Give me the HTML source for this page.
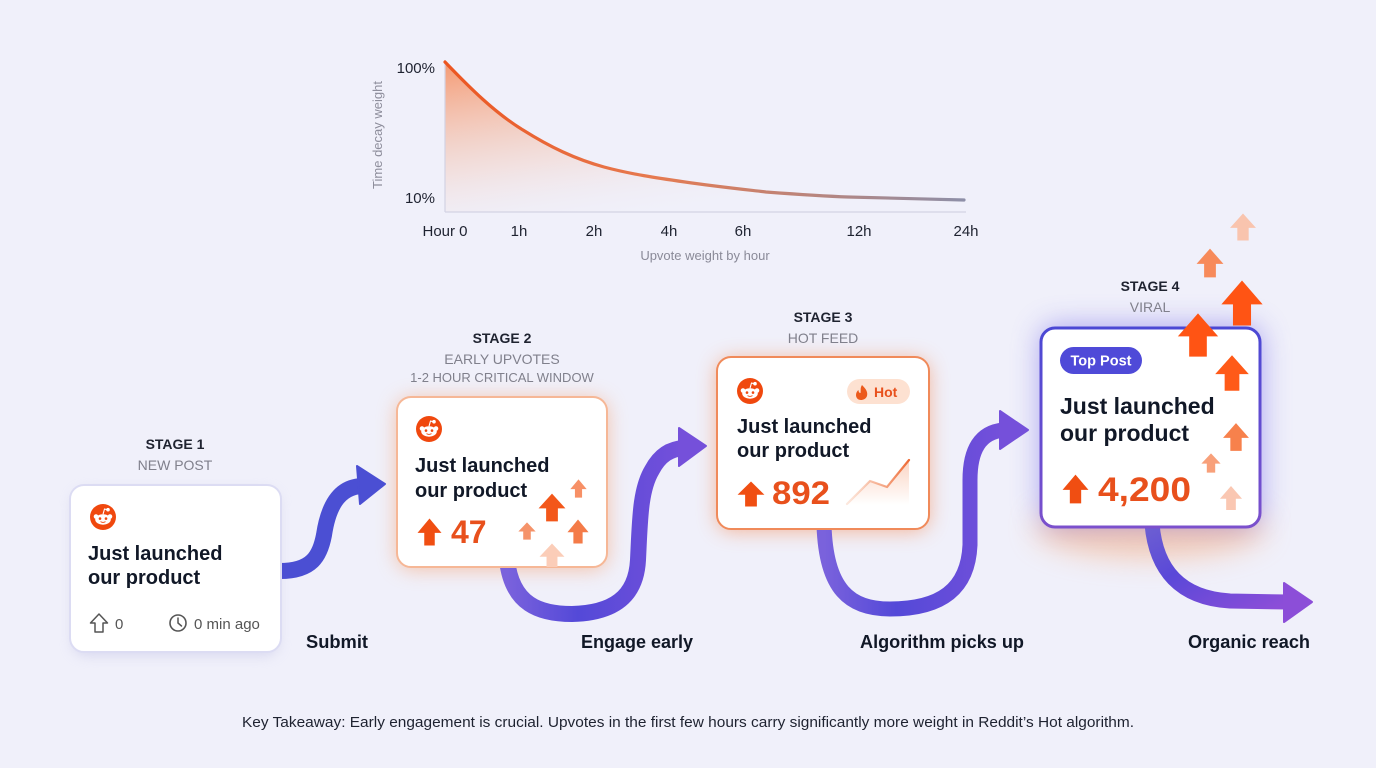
<!DOCTYPE html>
<html><head><meta charset="utf-8"><style>
html,body{margin:0;padding:0;background:#f0f0fa;}
svg{display:block;font-family:"Liberation Sans",sans-serif;}
</style></head><body>
<svg width="1376" height="768" viewBox="0 0 1376 768" xmlns="http://www.w3.org/2000/svg">
<defs>
  <filter id="b6" x="-50%" y="-50%" width="200%" height="200%"><feGaussianBlur stdDeviation="6"/></filter>
  <filter id="b10" x="-50%" y="-50%" width="200%" height="200%"><feGaussianBlur stdDeviation="10"/></filter>
  <filter id="b16" x="-60%" y="-60%" width="220%" height="220%"><feGaussianBlur stdDeviation="14"/></filter>
  <linearGradient id="fillG" x1="0" y1="0" x2="0.5" y2="1">
    <stop offset="0" stop-color="#f5834f" stop-opacity="0.8"/>
    <stop offset="0.6" stop-color="#f6b79a" stop-opacity="0.28"/>
    <stop offset="1" stop-color="#f0f0fa" stop-opacity="0"/>
  </linearGradient>
  <linearGradient id="curveG" x1="445" y1="0" x2="965" y2="0" gradientUnits="userSpaceOnUse">
    <stop offset="0" stop-color="#ec5520"/>
    <stop offset="0.4" stop-color="#e67a50"/>
    <stop offset="1" stop-color="#8d8fa8"/>
  </linearGradient>
  <linearGradient id="a2G" x1="0" y1="0" x2="1" y2="0">
    <stop offset="0" stop-color="#7a62dc"/>
    <stop offset="0.4" stop-color="#5449d8"/>
    <stop offset="1" stop-color="#7550da"/>
  </linearGradient>
  <linearGradient id="a4G" x1="0" y1="0" x2="1" y2="1">
    <stop offset="0" stop-color="#6d5fd2"/>
    <stop offset="0.4" stop-color="#5a48d8"/>
    <stop offset="1" stop-color="#8c4ed8"/>
  </linearGradient>
  <linearGradient id="c4B" x1="0" y1="0" x2="0" y2="1">
    <stop offset="0" stop-color="#4b48d4"/>
    <stop offset="1" stop-color="#7b50cc"/>
  </linearGradient>
  <linearGradient id="sparkF" x1="0" y1="0" x2="0" y2="1">
    <stop offset="0" stop-color="#f6a07a" stop-opacity="0.45"/>
    <stop offset="1" stop-color="#f6a07a" stop-opacity="0"/>
  </linearGradient>
  <linearGradient id="sparkS" x1="0" y1="0" x2="1" y2="0">
    <stop offset="0" stop-color="#f5b08e" stop-opacity="0.3"/>
    <stop offset="1" stop-color="#ee6a35"/>
  </linearGradient>
  <clipPath id="c2clip"><rect x="397" y="397" width="210" height="170" rx="14"/></clipPath>
  <symbol id="up" viewBox="0 0 100 100" preserveAspectRatio="none">
    <path d="M50 2 L98 53 L71 53 L71 98 L29 98 L29 53 L2 53 Z" stroke-linejoin="round"/>
  </symbol>
  <symbol id="snoo" viewBox="-13 -13 26 26">
    <circle r="13" fill="#f0480e"/>
    <circle cx="-7" cy="-0.5" r="2.3" fill="#fff"/>
    <circle cx="7" cy="-0.5" r="2.3" fill="#fff"/>
    <ellipse cx="0" cy="2.5" rx="7.8" ry="5.2" fill="#fff"/>
    <circle cx="-3" cy="1.6" r="1.3" fill="#f0480e"/>
    <circle cx="3" cy="1.6" r="1.3" fill="#f0480e"/>
    <path d="M-2.5 4.6 Q0 6.2 2.5 4.6" stroke="#f0480e" stroke-width="0.9" fill="none"/>
    <path d="M0 -2.7 L1.5 -8 L4.5 -7.2" stroke="#fff" stroke-width="1.1" fill="none"/>
    <circle cx="5" cy="-7.3" r="1.8" fill="#fff"/>
  </symbol>
</defs>

<rect width="1376" height="768" fill="#f0f0fa"/>

<!-- ============ CHART ============ -->
<path d="M445,62 C470,88 495,113 523,130 C550,147 575,159 604,167 C630,174 657,178 685,182 C712,186 740,189 766,192 C793,194 820,196 848,197 C888,198 925,199 964,200 L964,212 L445,212 Z" fill="url(#fillG)"/>
<line x1="445" y1="60" x2="445" y2="212" stroke="#d3d3e3" stroke-width="1.2"/>
<line x1="445" y1="212" x2="966" y2="212" stroke="#d3d3e3" stroke-width="1.2"/>
<path d="M445,62 C470,88 495,113 523,130 C550,147 575,159 604,167 C630,174 657,178 685,182 C712,186 740,189 766,192 C793,194 820,196 848,197 C888,198 925,199 964,200" fill="none" stroke="url(#curveG)" stroke-width="3.2" stroke-linecap="round"/>
<g font-size="15" fill="#1e2230">
  <text x="435" y="73" text-anchor="end">100%</text>
  <text x="435" y="203" text-anchor="end">10%</text>
  <text x="445" y="236" text-anchor="middle">Hour 0</text>
  <text x="519" y="236" text-anchor="middle">1h</text>
  <text x="594" y="236" text-anchor="middle">2h</text>
  <text x="669" y="236" text-anchor="middle">4h</text>
  <text x="743" y="236" text-anchor="middle">6h</text>
  <text x="859" y="236" text-anchor="middle">12h</text>
  <text x="966" y="236" text-anchor="middle">24h</text>
</g>
<text x="705" y="260" text-anchor="middle" font-size="13" fill="#8a8a98">Upvote weight by hour</text>
<text transform="translate(382,135) rotate(-90)" text-anchor="middle" font-size="13" fill="#8e8e9c">Time decay weight</text>

<!-- ============ GLOWS ============ -->
<rect x="72" y="490" width="207" height="166" rx="14" fill="#c9c9e8" opacity="0.6" filter="url(#b6)"/>
<rect x="397" y="399" width="210" height="170" rx="14" fill="#f7985f" opacity="0.55" filter="url(#b10)"/>
<rect x="717" y="359" width="212" height="172" rx="14" fill="#f58a52" opacity="0.6" filter="url(#b10)"/>
<ellipse cx="1150" cy="528" rx="115" ry="30" fill="#f6a572" opacity="0.5" filter="url(#b16)"/>
<rect x="1040" y="325" width="222" height="200" rx="16" fill="#6a5ee6" opacity="0.5" filter="url(#b16)"/>

<!-- ============ CONNECTORS ============ -->
<path d="M280,571 C312,571 320,556 324,535 C328,508 338,487 362,486" fill="none" stroke="#4b4fd3" stroke-width="16"/>
<path d="M357,466 L385,484 L360,504 Z" fill="#4b4fd3" stroke="#4b4fd3" stroke-width="2" stroke-linejoin="round"/>
<path d="M507,560 C512,605 540,614 572,614 C612,613 636,598 638,560 C640,520 640,490 652,470 C660,455 670,449 684,448" fill="none" stroke="url(#a2G)" stroke-width="16"/>
<path d="M679,428 L706,446 L679,466 Z" fill="#7550da" stroke="#7550da" stroke-width="2" stroke-linejoin="round"/>
<path d="M824,525 C826,590 850,609 890,609 C940,609 968,590 970,545 L970,480 C970,450 980,432 1004,430" fill="none" stroke="url(#a2G)" stroke-width="15"/>
<path d="M1000,411 L1028,430 L1000,449 Z" fill="#7550da" stroke="#7550da" stroke-width="2" stroke-linejoin="round"/>
<path d="M1152,524 C1156,570 1180,598 1230,601 L1288,602" fill="none" stroke="url(#a4G)" stroke-width="15"/>
<path d="M1284,583 L1312,602 L1284,622 Z" fill="#8c4ed8" stroke="#8c4ed8" stroke-width="2" stroke-linejoin="round"/>

<!-- ============ STAGE 1 ============ -->
<text x="175" y="449" text-anchor="middle" font-size="14" font-weight="bold" fill="#1f2330">STAGE 1</text>
<text x="175" y="470" text-anchor="middle" font-size="14" fill="#80808c">NEW POST</text>
<rect x="70" y="485" width="211" height="167" rx="14" fill="#ffffff" stroke="#dcdcf3" stroke-width="2"/>
<use href="#snoo" x="90" y="504" width="26" height="26"/>
<text x="88" y="560" font-size="20" font-weight="bold" fill="#111827">Just launched</text>
<text x="88" y="584" font-size="20" font-weight="bold" fill="#111827">our product</text>
<path d="M99 614 L107.5 623 L103 623 L103 632 L95 632 L95 623 L90.5 623 Z" fill="none" stroke="#555" stroke-width="1.5" stroke-linejoin="round"/>
<text x="115" y="629" font-size="15" fill="#555">0</text>
<circle cx="178" cy="623" r="8" fill="none" stroke="#555" stroke-width="1.6"/>
<path d="M178 618 L178 623 L181.5 626" fill="none" stroke="#555" stroke-width="1.5" stroke-linecap="round"/>
<text x="194" y="629" font-size="15" fill="#555">0 min ago</text>

<!-- ============ STAGE 2 ============ -->
<text x="502" y="343" text-anchor="middle" font-size="14" font-weight="bold" fill="#1f2330">STAGE 2</text>
<text x="502" y="364" text-anchor="middle" font-size="14" fill="#80808c">EARLY UPVOTES</text>
<text x="502" y="382" text-anchor="middle" font-size="13" fill="#80808c">1-2 HOUR CRITICAL WINDOW</text>
<rect x="397" y="397" width="210" height="170" rx="14" fill="#ffffff" stroke="#f6b796" stroke-width="2"/>
<use href="#snoo" x="416" y="416" width="26" height="26"/>
<text x="415" y="472" font-size="20" font-weight="bold" fill="#111827">Just launched</text>
<text x="415" y="497" font-size="20" font-weight="bold" fill="#111827">our product</text>
<use href="#up" x="417" y="518" width="25" height="28" fill="#f04e12"/>
<text x="451" y="543" font-size="32" font-weight="bold" fill="#e8501c">47</text>
<g clip-path="url(#c2clip)">
  <use href="#up" x="539" y="543" width="26" height="26" fill="#fbcdb8"/>
</g>
<use href="#up" x="538" y="493" width="28" height="29" fill="#f3571a"/>
<use href="#up" x="570" y="479" width="17" height="19" fill="#f79066"/>
<use href="#up" x="518" y="522" width="18" height="18" fill="#f5936a"/>
<use href="#up" x="567" y="519" width="22" height="25" fill="#f47b48"/>

<!-- ============ STAGE 3 ============ -->
<text x="823" y="322" text-anchor="middle" font-size="14" font-weight="bold" fill="#1f2330">STAGE 3</text>
<text x="823" y="343" text-anchor="middle" font-size="14" fill="#80808c">HOT FEED</text>
<rect x="717" y="357" width="212" height="172" rx="14" fill="#ffffff" stroke="#f08a5a" stroke-width="2"/>
<use href="#snoo" x="737" y="378" width="26" height="26"/>
<rect x="847" y="379" width="63" height="25" rx="12.5" fill="#fde1d1"/>
<path d="M862 385 C866 389 868 392 867 396 C866 399 863 400 861 400 C858 400 856 398 856 395 C856 393 857 391 858.5 390 C858.5 392 859.5 393 860.5 393 C861 390 860 388 862 385 Z" fill="#ec5a1c"/>
<text x="874" y="397" font-size="14" font-weight="bold" fill="#e8501c">Hot</text>
<text x="737" y="433" font-size="20" font-weight="bold" fill="#111827">Just launched</text>
<text x="737" y="457" font-size="20" font-weight="bold" fill="#111827">our product</text>
<use href="#up" x="737" y="481" width="28" height="26" fill="#f04e12"/>
<text x="772" y="504" font-size="32" font-weight="bold" fill="#e8501c" textLength="58" lengthAdjust="spacingAndGlyphs">892</text>
<path d="M847,505 L870,481 L887,487 L909,460 L909,505 Z" fill="url(#sparkF)"/>
<polyline points="847,504 870,481 887,487 909,460" fill="none" stroke="url(#sparkS)" stroke-width="2.2" stroke-linejoin="round" stroke-linecap="round"/>

<!-- ============ STAGE 4 ============ -->
<text x="1150" y="291" text-anchor="middle" font-size="14" font-weight="bold" fill="#1f2330">STAGE 4</text>
<text x="1150" y="312" text-anchor="middle" font-size="14" fill="#80808c">VIRAL</text>
<rect x="1041" y="328" width="219" height="199" rx="14" fill="#ffffff" stroke="url(#c4B)" stroke-width="3"/>
<rect x="1060" y="347" width="82" height="27" rx="13.5" fill="#4f4ad8"/>
<text x="1101" y="365.5" text-anchor="middle" font-size="14.5" font-weight="bold" fill="#ffffff">Top Post</text>
<text x="1060" y="414" font-size="23" font-weight="bold" fill="#111827">Just launched</text>
<text x="1060" y="441" font-size="23" font-weight="bold" fill="#111827">our product</text>
<use href="#up" x="1062" y="474" width="27" height="30" fill="#f04e12"/>
<text x="1098" y="501" font-size="34" font-weight="bold" fill="#e8501c" textLength="93" lengthAdjust="spacingAndGlyphs">4,200</text>
<use href="#up" x="1229.5" y="213" width="27" height="28" fill="#f9c4ae"/>
<use href="#up" x="1196" y="248" width="28" height="30" fill="#f78a5a"/>
<use href="#up" x="1220.5" y="279.5" width="43" height="47" fill="#ff5414"/>
<use href="#up" x="1177" y="312.5" width="42" height="45" fill="#ff5414"/>
<use href="#up" x="1214.5" y="354.5" width="35" height="37" fill="#ff5a18"/>
<use href="#up" x="1222.5" y="422.5" width="27" height="29" fill="#f7814c"/>
<use href="#up" x="1201" y="453" width="20" height="20" fill="#f8a07a"/>
<use href="#up" x="1219.5" y="485.5" width="23" height="25" fill="#fac7b2"/>

<!-- ============ LABELS ============ -->
<g font-size="18" font-weight="bold" fill="#111827">
  <text x="306" y="648" textLength="62" lengthAdjust="spacingAndGlyphs">Submit</text>
  <text x="581" y="648" textLength="112" lengthAdjust="spacingAndGlyphs">Engage early</text>
  <text x="860" y="648" textLength="164" lengthAdjust="spacingAndGlyphs">Algorithm picks up</text>
  <text x="1188" y="648" textLength="122" lengthAdjust="spacingAndGlyphs">Organic reach</text>
</g>
<text x="242" y="727" font-size="15" fill="#1e2230" textLength="892" lengthAdjust="spacingAndGlyphs">Key Takeaway: Early engagement is crucial. Upvotes in the first few hours carry significantly more weight in Reddit’s Hot algorithm.</text>
</svg>
</body></html>
